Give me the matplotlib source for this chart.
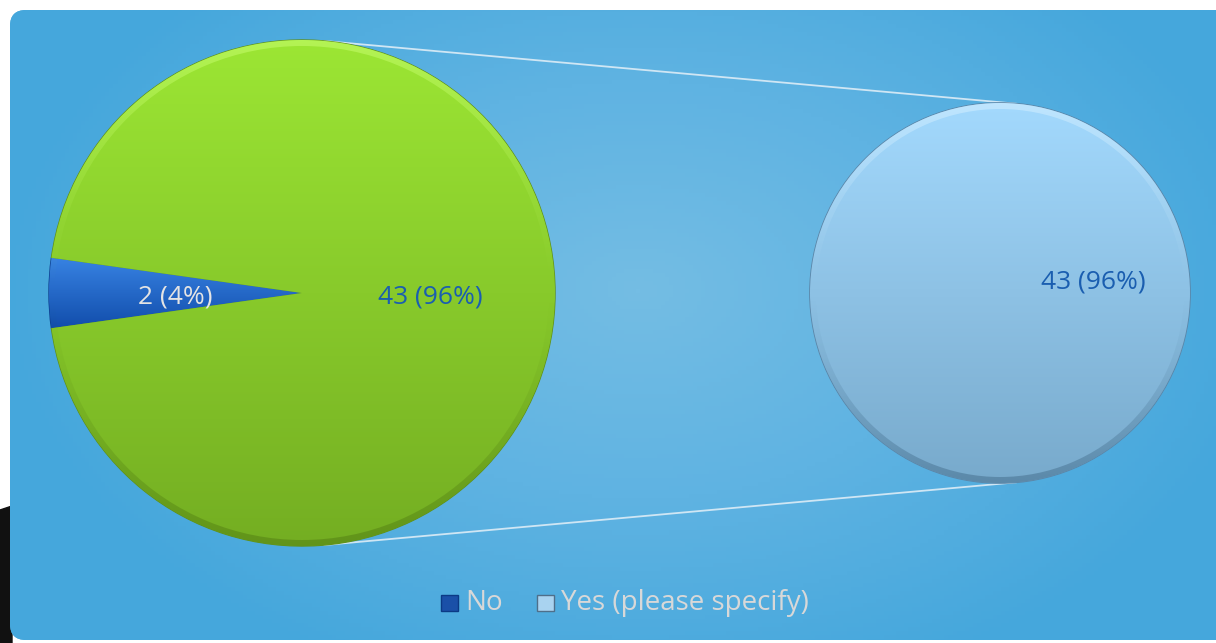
import numpy as np
import matplotlib.pyplot as plt
from matplotlib.patches import FancyBboxPatch, Rectangle, Polygon, Wedge
from matplotlib.colors import LinearSegmentedColormap, to_rgb

plt.rcParams['font.family'] = ['Open Sans', 'DejaVu Sans']

# survey answers
categories = ["No", "Yes (please specify)"]
counts = [2, 43]
main_labels = ["2 (4%)", "43 (96%)"]
second_labels = ["43 (96%)"]

W, H = 1216, 643
fig = plt.figure(figsize=(W / 100, H / 100), dpi=100)
fig.patch.set_facecolor("white")
ax = fig.add_axes([0, 0, 1, 1])
ax.axis("off")


def py(y):
    # pixel row -> data y
    return H - y


# dark patch at the lower left behind the panel
ax.add_patch(Polygon([(0, py(510)), (12, py(506)), (12, py(643)), (0, py(643))],
                     closed=True, color="#111111", zorder=0))

# rounded panel with radial blue gradient
panel = FancyBboxPatch((10, py(640)), W + 40, 630, boxstyle="round,pad=0,rounding_size=16",
                       facecolor="#4aaadd", edgecolor="none", zorder=1)
ax.add_patch(panel)
gx, gy = np.meshgrid(np.linspace(0, W, 300), np.linspace(0, H, 160))
r = np.sqrt(((gx - 640) / 640) ** 2 + ((gy - py(290)) / 420) ** 2)
bg_cmap = LinearSegmentedColormap.from_list("bg", ["#74bde4", "#5fb3e2", "#45a7dc"])
bg = ax.imshow(np.clip(r, 0, 1), cmap=bg_cmap, extent=(0, W, 0, H), origin="lower",
               aspect="auto", zorder=1, vmin=0, vmax=1)
bg.set_clip_path(panel)


def vgrad(patch, top, bottom, y0, y1, z):
    cm = LinearSegmentedColormap.from_list("g", [bottom, top])
    vals = np.linspace(0, 1, 200).reshape(-1, 1)
    im = ax.imshow(vals, cmap=cm, extent=(0, W, y0, y1), origin="lower",
                   aspect="auto", zorder=z)
    im.set_clip_path(patch)


def bevel(cx, cy, rad, light, dark):
    # soft light rim on top, dark rim at the bottom, fading toward the sides
    ring = Wedge((cx, cy), rad, 0, 360, width=6, facecolor="none", edgecolor="none")
    ax.add_patch(ring)
    yy = np.linspace(-1, 1, 300)
    img = np.zeros((300, 1, 4))
    top = yy > 0
    img[top, 0, :3] = to_rgb(light)
    img[~top, 0, :3] = to_rgb(dark)
    img[:, 0, 3] = 0.55 * np.clip(yy, 0, 1) ** 1.5 + 0.5 * np.clip(-yy, 0, 1) ** 1.5
    im = ax.imshow(img, extent=(cx - rad, cx + rad, cy - rad, cy + rad),
                   origin="lower", aspect="auto", zorder=4)
    im.set_clip_path(ring)


# main pie: "No" slice centred on the left, rest stands for the second pie
cx1, cy1, r1 = 302, py(293), 253
share = counts[0] / sum(counts)
start = 180 - 360 * share / 2
wedges, _ = ax.pie(counts, center=(cx1, cy1), radius=r1, startangle=start,
                   counterclock=True, colors=["#1d62c9", "#8dd12a"],
                   wedgeprops=dict(edgecolor="#5e8f1a", linewidth=1.0))
for w in wedges:
    w.set_zorder(3)
vgrad(wedges[0], "#3a86e6", "#0f4aa8", cy1 - 40, cy1 + 40, 3.5)
vgrad(wedges[1], "#9ce634", "#74ae22", cy1 - r1, cy1 + r1, 3.5)
wedges[0].set_edgecolor("#0d3f8f")
bevel(cx1, cy1, r1, "#c8ff70", "#4f7a12")

# secondary pie
cx2, cy2, r2 = 1000, py(293), 190
w2, _ = ax.pie(counts[1:], center=(cx2, cy2), radius=r2, startangle=90,
               colors=["#92c8ec"], wedgeprops=dict(edgecolor="#5b86a8", linewidth=1.2))
for w in w2:
    w.set_zorder(3)
    vgrad(w, "#a3d9fd", "#78aacc", cy2 - r2, cy2 + r2, 3.5)
bevel(cx2, cy2, r2, "#d6f0ff", "#3f6886")

ax.set_xlim(0, W)
ax.set_ylim(0, H)
ax.set_aspect("auto")

# connector lines between the pies
a = np.deg2rad(85)
for s in (1, -1):
    ax.plot([cx1 + r1 * np.cos(a), cx2 + r2 * np.cos(a)],
            [cy1 + s * r1 * np.sin(a), cy2 + s * r2 * np.sin(a)],
            color="#cfe6f4", lw=1.3, zorder=2, solid_capstyle="round")

# data labels
ax.text(175, py(297), main_labels[0], color="#e4e4e4", fontsize=19,
        ha="center", va="center", zorder=5)
ax.text(430, py(297), main_labels[1], color="#1a5eb0", fontsize=19,
        ha="center", va="center", zorder=5)
ax.text(1093, py(282), second_labels[0], color="#1a5eb0", fontsize=19,
        ha="center", va="center", zorder=5)

# legend
leg_items = [(449, "#1a50a8", "#0b3a85"), (545, "#a9d3f0", "#4f6f8a")]
for (x, fc, ec), name in zip(leg_items, categories):
    ax.add_patch(Rectangle((x - 8, py(611)), 17, 16, facecolor=fc, edgecolor=ec,
                           lw=1, zorder=5))
    ax.text(x + 16, py(603), name, color="#d8d8d8", fontsize=20,
            ha="left", va="center", zorder=5)

fig.savefig("out.png", dpi=100, facecolor="white")
